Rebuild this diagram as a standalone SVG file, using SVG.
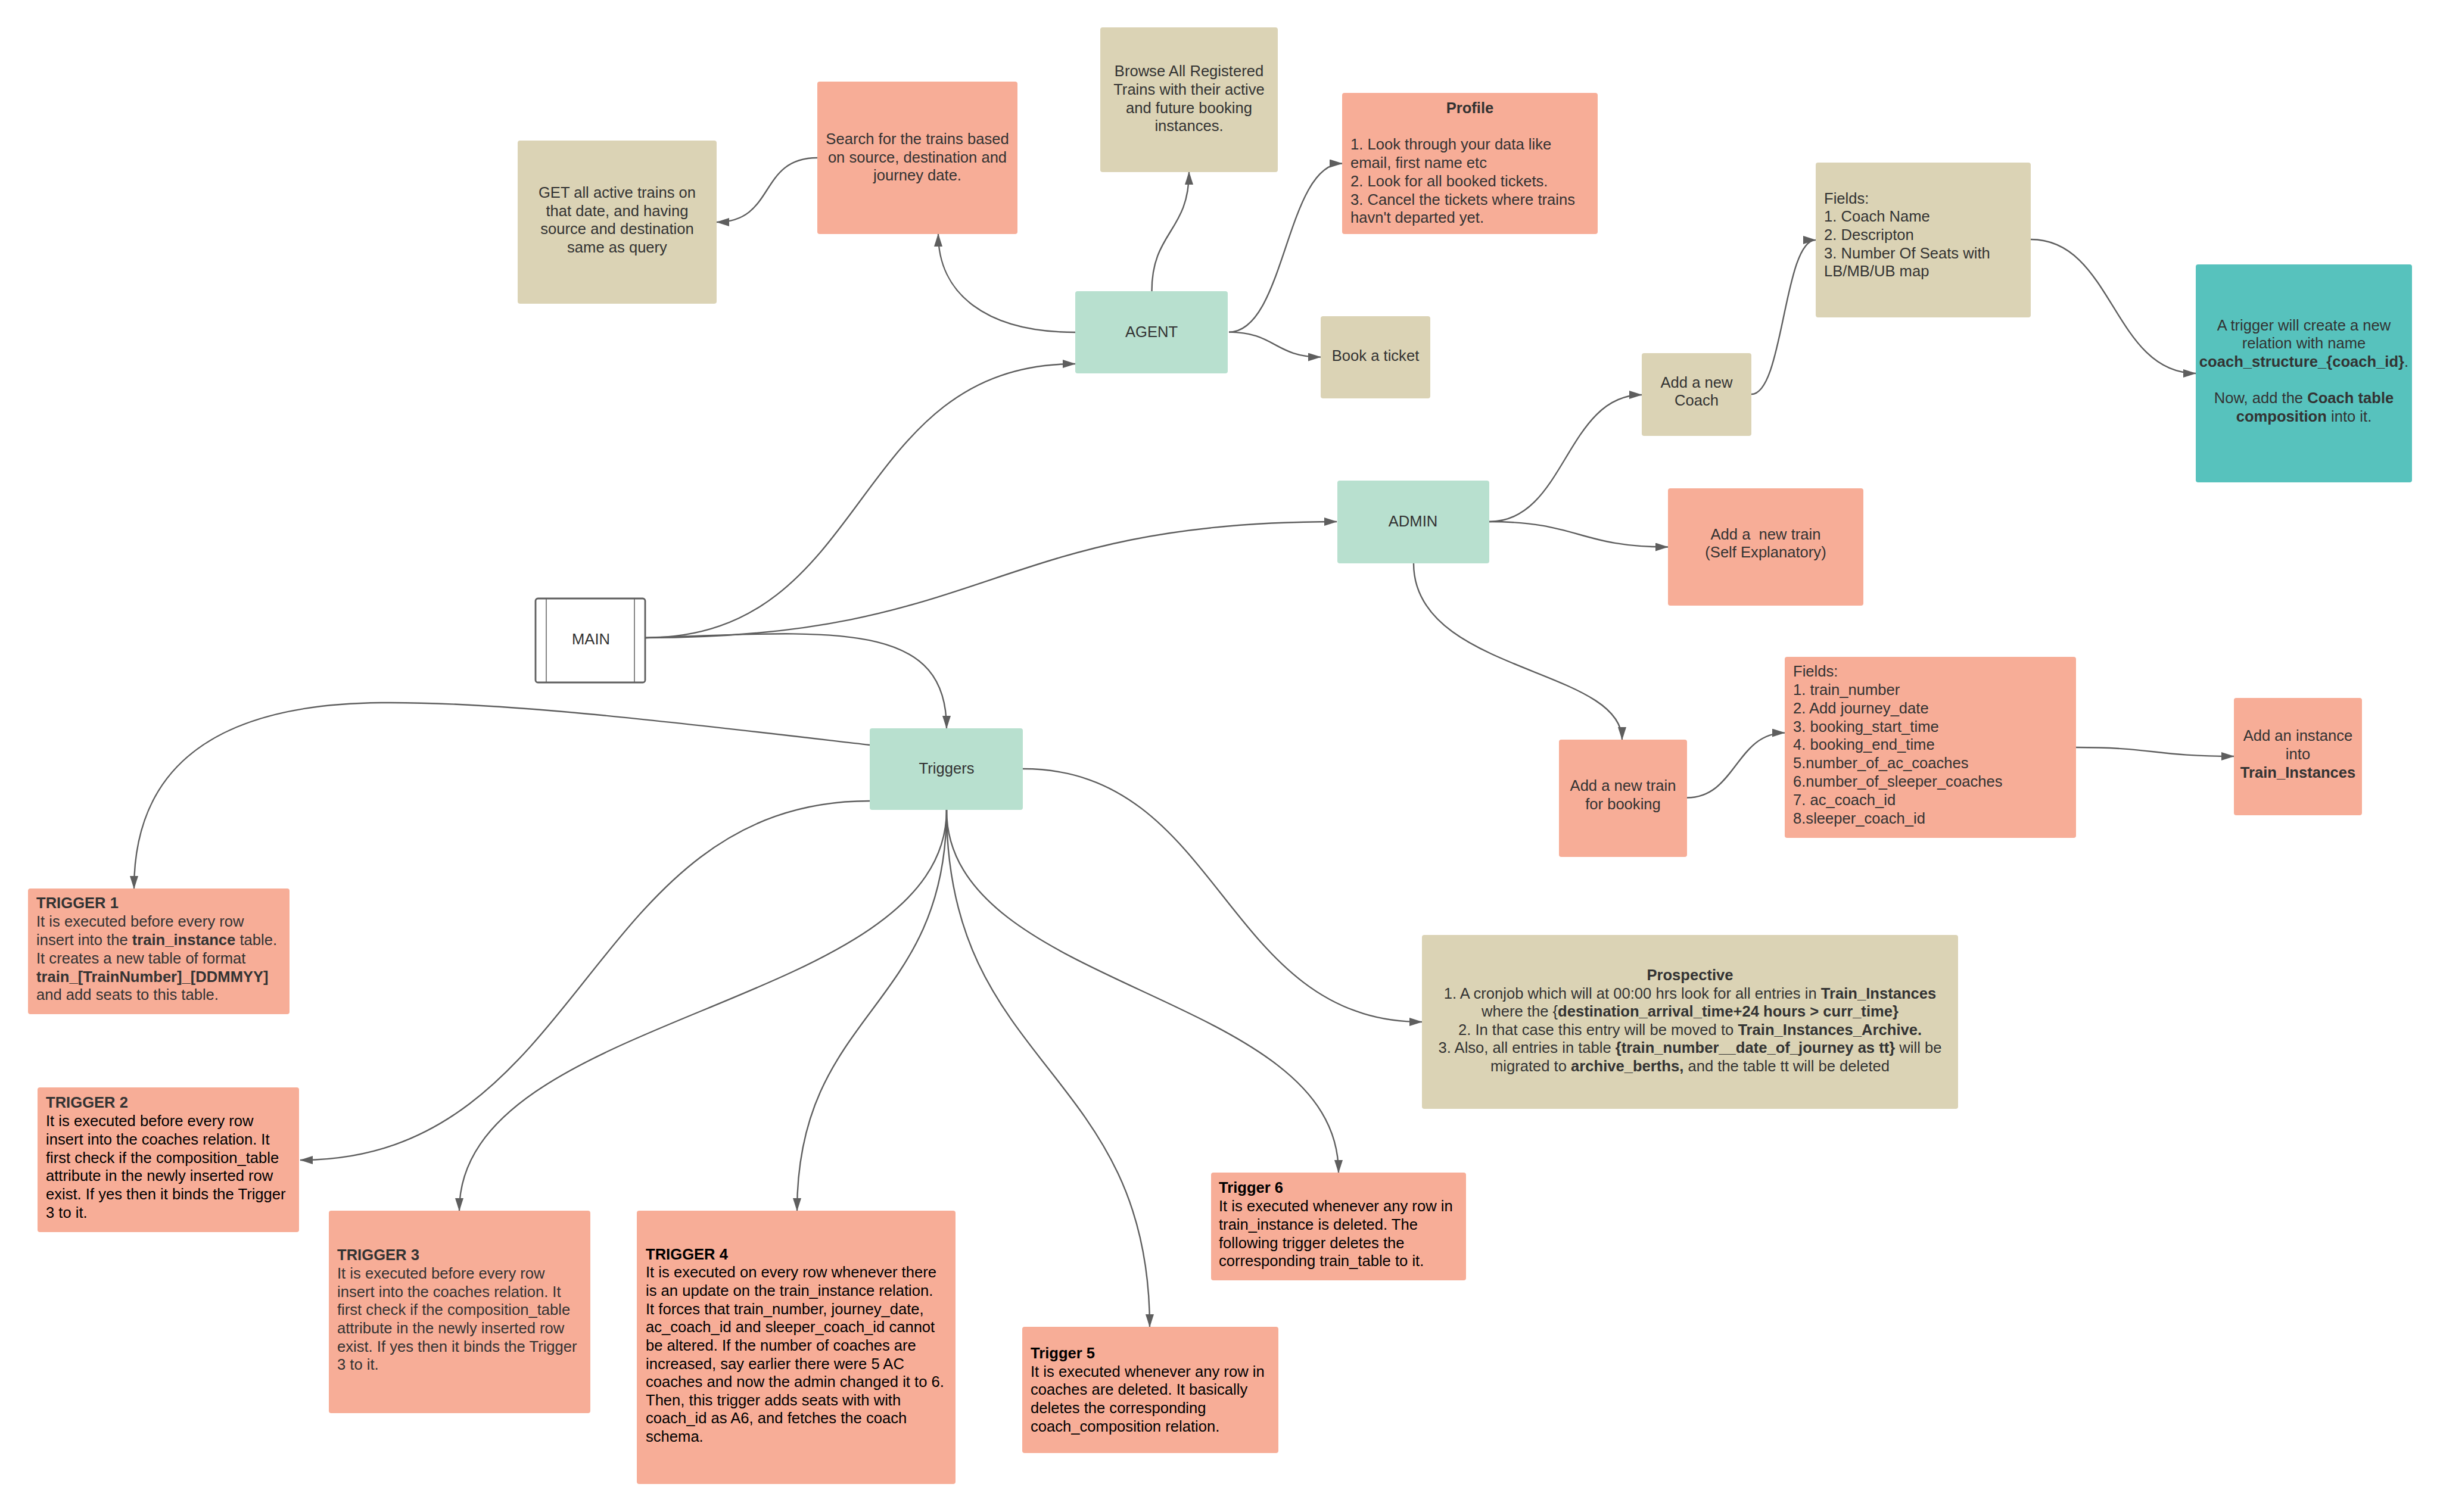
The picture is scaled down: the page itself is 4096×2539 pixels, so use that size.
<svg xmlns="http://www.w3.org/2000/svg" width="4096" height="2539" viewBox="0 0 4096 2539">
<defs>
<marker id="ah" markerUnits="userSpaceOnUse" markerWidth="22" markerHeight="14" refX="21" refY="7" orient="auto">
<path d="M0,0 L22,7 L0,14 z" fill="#5e5e5e"/>
</marker>
<style>
.t{font-family:"Liberation Sans",Arial,sans-serif;font-size:25.6px;fill:#333}
.k{fill:#000}
.b{font-weight:bold}
.c{text-anchor:middle}
.sal{fill:#F7AD97}
.tan{fill:#DBD3B5}
.min{fill:#B8E0CF}
.tea{fill:#57C2BD}
.cn path{fill:none;stroke:#5e5e5e;stroke-width:2.4;marker-end:url(#ah)}
</style>
</defs>
<rect width="4096" height="2539" fill="#fff"/>

<g id="connectors" class="cn">
<path d="M1083,1071 C1466,1071 1422,611 1805,611"/>
<path d="M1083,1071 C1663,1071 1663,876 2244,876"/>
<path d="M1083,1071 C1400,1060 1589,1040 1589,1223"/>
<path d="M1460,1251 C1150,1215 850,1178 640,1180 C400,1182 225,1260 225,1492"/>
<path d="M1460,1345 C982,1345 982,1948 504,1948"/>
<path d="M1589,1360 C1589,1696 771,1697 771,2033"/>
<path d="M1589,1360 C1589,1696 1338,1697 1338,2033"/>
<path d="M1589,1360 C1589,1794 1930,1794 1930,2228"/>
<path d="M1589,1360 C1589,1664 2247,1665 2247,1969"/>
<path d="M1717,1291 C2052,1291 2052,1716 2387,1716"/>
<path d="M1372,265 C1272,265 1303,373 1203,373"/>
<path d="M1805,558 C1655,558 1575,493 1575,393"/>
<path d="M1933.5,489 C1933.5,389 1996,389 1996,289"/>
<path d="M2063,557.6 C2158,557.6 2158,274.5 2253,274.5"/>
<path d="M2063,557.6 C2140,557.6 2140,599.6 2217,599.6"/>
<path d="M2500,876 C2628,876 2628,663 2756,663"/>
<path d="M2500,876 C2650,876 2650,918.5 2800,918.5"/>
<path d="M2373,946 C2373,1130 2723,1120 2723,1242"/>
<path d="M2832,1339.5 C2914,1339.5 2914,1230.6 2996,1230.6"/>
<path d="M3485,1255 C3617,1255 3617,1270 3750,1270"/>
<path d="M2940,662 C2994,662 2994,403 3048,403"/>
<path d="M3409,402 C3547,402 3547,627 3686,627"/>
</g>

<g id="get">
<rect class="tan" x="869" y="236" width="334" height="274" rx="4"/>
<text class="t c" x="1036" y="332">GET all active trains on</text>
<text class="t c" x="1036" y="363">that date, and having</text>
<text class="t c" x="1036" y="393">source and destination</text>
<text class="t c" x="1036" y="424">same as query</text>
</g>

<g id="search">
<rect class="sal" x="1372" y="137" width="336" height="256" rx="4"/>
<text class="t c" x="1540" y="242">Search for the trains based</text>
<text class="t c" x="1540" y="273">on source, destination and</text>
<text class="t c" x="1540" y="303">journey date.</text>
</g>

<g id="browse">
<rect class="tan" x="1847" y="46" width="298" height="243" rx="4"/>
<text class="t c" x="1996" y="128">Browse All Registered</text>
<text class="t c" x="1996" y="159">Trains with their active</text>
<text class="t c" x="1996" y="190">and future booking</text>
<text class="t c" x="1996" y="220">instances.</text>
</g>

<g id="profile">
<rect class="sal" x="2253" y="156" width="429" height="237" rx="4"/>
<text class="t c b" x="2467.5" y="190">Profile</text>
<text class="t" x="2267" y="251">1. Look through your data like</text>
<text class="t" x="2267" y="282">email, first name etc</text>
<text class="t" x="2267" y="313">2. Look for all booked tickets.</text>
<text class="t" x="2267" y="344">3. Cancel the tickets where trains</text>
<text class="t" x="2267" y="374">havn't departed yet.</text>
</g>

<g id="agent">
<rect class="min" x="1805" y="489" width="256" height="138" rx="4"/>
<text class="t c" x="1933" y="566">AGENT</text>
</g>

<g id="book">
<rect class="tan" x="2217" y="531" width="184" height="138" rx="4"/>
<text class="t c" x="2309" y="606">Book a ticket</text>
</g>

<g id="coach">
<rect class="tan" x="2756" y="593" width="184" height="139" rx="4"/>
<text class="t c" x="2848" y="651">Add a new</text>
<text class="t c" x="2848" y="681">Coach</text>
</g>

<g id="coachfields">
<rect class="tan" x="3048" y="273" width="361" height="260" rx="4"/>
<text class="t" x="3062" y="342">Fields:</text>
<text class="t" x="3062" y="372">1. Coach Name</text>
<text class="t" x="3062" y="403">2. Descripton</text>
<text class="t" x="3062" y="434">3. Number Of Seats with</text>
<text class="t" x="3062" y="464">LB/MB/UB map</text>
</g>

<g id="coachtrigger">
<rect class="tea" x="3686" y="444" width="363" height="366" rx="4"/>
<text class="t c" x="3867.5" y="555">A trigger will create a new</text>
<text class="t c" x="3867.5" y="585">relation with name</text>
<text class="t c" x="3867.5" y="616"><tspan class="b">coach_structure_{coach_id}</tspan>.</text>
<text class="t c" x="3867.5" y="677">Now, add the <tspan class="b">Coach table</tspan></text>
<text class="t c" x="3867.5" y="708"><tspan class="b">composition</tspan> into it.</text>
</g>

<g id="main">
<rect x="899" y="1005" width="184" height="141" rx="4" fill="#fff" stroke="#5e5e5e" stroke-width="2.8"/>
<line x1="917" y1="1005" x2="917" y2="1146" stroke="#5e5e5e" stroke-width="1.5"/>
<line x1="1065" y1="1005" x2="1065" y2="1146" stroke="#5e5e5e" stroke-width="1.5"/>
<text class="t c" x="992" y="1082">MAIN</text>
</g>

<g id="admin">
<rect class="min" x="2245" y="807" width="255" height="139" rx="4"/>
<text class="t c" x="2372" y="884">ADMIN</text>
</g>

<g id="newtrain">
<rect class="sal" x="2800" y="820" width="328" height="197" rx="4"/>
<text class="t c" x="2964" y="906" style="white-space:pre">Add a  new train</text>
<text class="t c" x="2964" y="936">(Self Explanatory)</text>
</g>

<g id="booking">
<rect class="sal" x="2617" y="1242" width="215" height="197" rx="4"/>
<text class="t c" x="2724.5" y="1328">Add a new train</text>
<text class="t c" x="2724.5" y="1359">for booking</text>
</g>

<g id="trainfields">
<rect class="sal" x="2996" y="1103" width="489" height="304" rx="4"/>
<text class="t" x="3010" y="1136">Fields:</text>
<text class="t" x="3010" y="1167">1. train_number</text>
<text class="t" x="3010" y="1198">2. Add journey_date</text>
<text class="t" x="3010" y="1229">3. booking_start_time</text>
<text class="t" x="3010" y="1259">4. booking_end_time</text>
<text class="t" x="3010" y="1290">5.number_of_ac_coaches</text>
<text class="t" x="3010" y="1321">6.number_of_sleeper_coaches</text>
<text class="t" x="3010" y="1352">7. ac_coach_id</text>
<text class="t" x="3010" y="1383">8.sleeper_coach_id</text>
</g>

<g id="instance">
<rect class="sal" x="3750" y="1172" width="215" height="197" rx="4"/>
<text class="t c" x="3857.5" y="1244">Add an instance</text>
<text class="t c" x="3857.5" y="1275">into</text>
<text class="t c b" x="3857.5" y="1306">Train_Instances</text>
</g>

<g id="triggers">
<rect class="min" x="1460" y="1223" width="257" height="137" rx="4"/>
<text class="t c" x="1589" y="1299">Triggers</text>
</g>

<g id="prospective">
<rect class="tan" x="2387" y="1570" width="900" height="292" rx="4"/>
<text class="t c b" x="2837" y="1646">Prospective</text>
<text class="t c" x="2837" y="1677">1. A cronjob which will at 00:00 hrs look for all entries in <tspan class="b">Train_Instances</tspan></text>
<text class="t c" x="2837" y="1707">where the {<tspan class="b">destination_arrival_time+24 hours &gt; curr_time}</tspan></text>
<text class="t c" x="2837" y="1738">2. In that case this entry will be moved to <tspan class="b">Train_Instances_Archive.</tspan></text>
<text class="t c" x="2837" y="1768">3. Also, all entries in table <tspan class="b">{train_number__date_of_journey as tt}</tspan> will be</text>
<text class="t c" x="2837" y="1799">migrated to <tspan class="b">archive_berths,</tspan> and the table tt will be deleted</text>
</g>

<g id="trigger1">
<rect class="sal" x="47" y="1492" width="439" height="211" rx="4"/>
<text class="t b" x="61" y="1525">TRIGGER 1</text>
<text class="t" x="61" y="1556">It is executed before every row</text>
<text class="t" x="61" y="1587">insert into the <tspan class="b">train_instance</tspan> table.</text>
<text class="t" x="61" y="1618">It creates a new table of format</text>
<text class="t b" x="61" y="1649">train_[TrainNumber]_[DDMMYY]</text>
<text class="t" x="61" y="1679">and add seats to this table.</text>
</g>

<g id="trigger2">
<rect class="sal" x="63" y="1826" width="439" height="243" rx="4"/>
<text class="t b" x="77" y="1860">TRIGGER 2</text>
<text class="t k" x="77" y="1891">It is executed before every row</text>
<text class="t k" x="77" y="1922">insert into the coaches relation. It</text>
<text class="t k" x="77" y="1953">first check if the composition_table</text>
<text class="t k" x="77" y="1983">attribute in the newly inserted row</text>
<text class="t k" x="77" y="2014">exist. If yes then it binds the Trigger</text>
<text class="t k" x="77" y="2045">3 to it.</text>
</g>

<g id="trigger3">
<rect class="sal" x="552" y="2033" width="439" height="340" rx="4"/>
<text class="t b" x="566" y="2116">TRIGGER 3</text>
<text class="t" x="566" y="2147">It is executed before every row</text>
<text class="t" x="566" y="2178">insert into the coaches relation. It</text>
<text class="t" x="566" y="2208">first check if the composition_table</text>
<text class="t" x="566" y="2239">attribute in the newly inserted row</text>
<text class="t" x="566" y="2270">exist. If yes then it binds the Trigger</text>
<text class="t" x="566" y="2300">3 to it.</text>
</g>

<g id="trigger4">
<rect class="sal" x="1069" y="2033" width="535" height="459" rx="4"/>
<text class="t k b" x="1084" y="2115">TRIGGER 4</text>
<text class="t k" x="1084" y="2145">It is executed on every row whenever there</text>
<text class="t k" x="1084" y="2176">is an update on the train_instance relation.</text>
<text class="t k" x="1084" y="2207">It forces that train_number, journey_date,</text>
<text class="t k" x="1084" y="2237">ac_coach_id and sleeper_coach_id cannot</text>
<text class="t k" x="1084" y="2268">be altered. If the number of coaches are</text>
<text class="t k" x="1084" y="2299">increased, say earlier there were 5 AC</text>
<text class="t k" x="1084" y="2329">coaches and now the admin changed it to 6.</text>
<text class="t k" x="1084" y="2360">Then, this trigger adds seats with with</text>
<text class="t k" x="1084" y="2390">coach_id as A6, and fetches the coach</text>
<text class="t k" x="1084" y="2421">schema.</text>
</g>

<g id="trigger5">
<rect class="sal" x="1716" y="2228" width="430" height="212" rx="4"/>
<text class="t k b" x="1730" y="2281">Trigger 5</text>
<text class="t k" x="1730" y="2312">It is executed whenever any row in</text>
<text class="t k" x="1730" y="2342">coaches are deleted. It basically</text>
<text class="t k" x="1730" y="2373">deletes the corresponding</text>
<text class="t k" x="1730" y="2404">coach_composition relation.</text>
</g>

<g id="trigger6">
<rect class="sal" x="2033" y="1969" width="428" height="181" rx="4"/>
<text class="t k b" x="2046" y="2003">Trigger 6</text>
<text class="t k" x="2046" y="2034">It is executed whenever any row in</text>
<text class="t k" x="2046" y="2065">train_instance is deleted. The</text>
<text class="t k" x="2046" y="2096">following trigger deletes the</text>
<text class="t k" x="2046" y="2126">corresponding train_table to it.</text>
</g>
</svg>
